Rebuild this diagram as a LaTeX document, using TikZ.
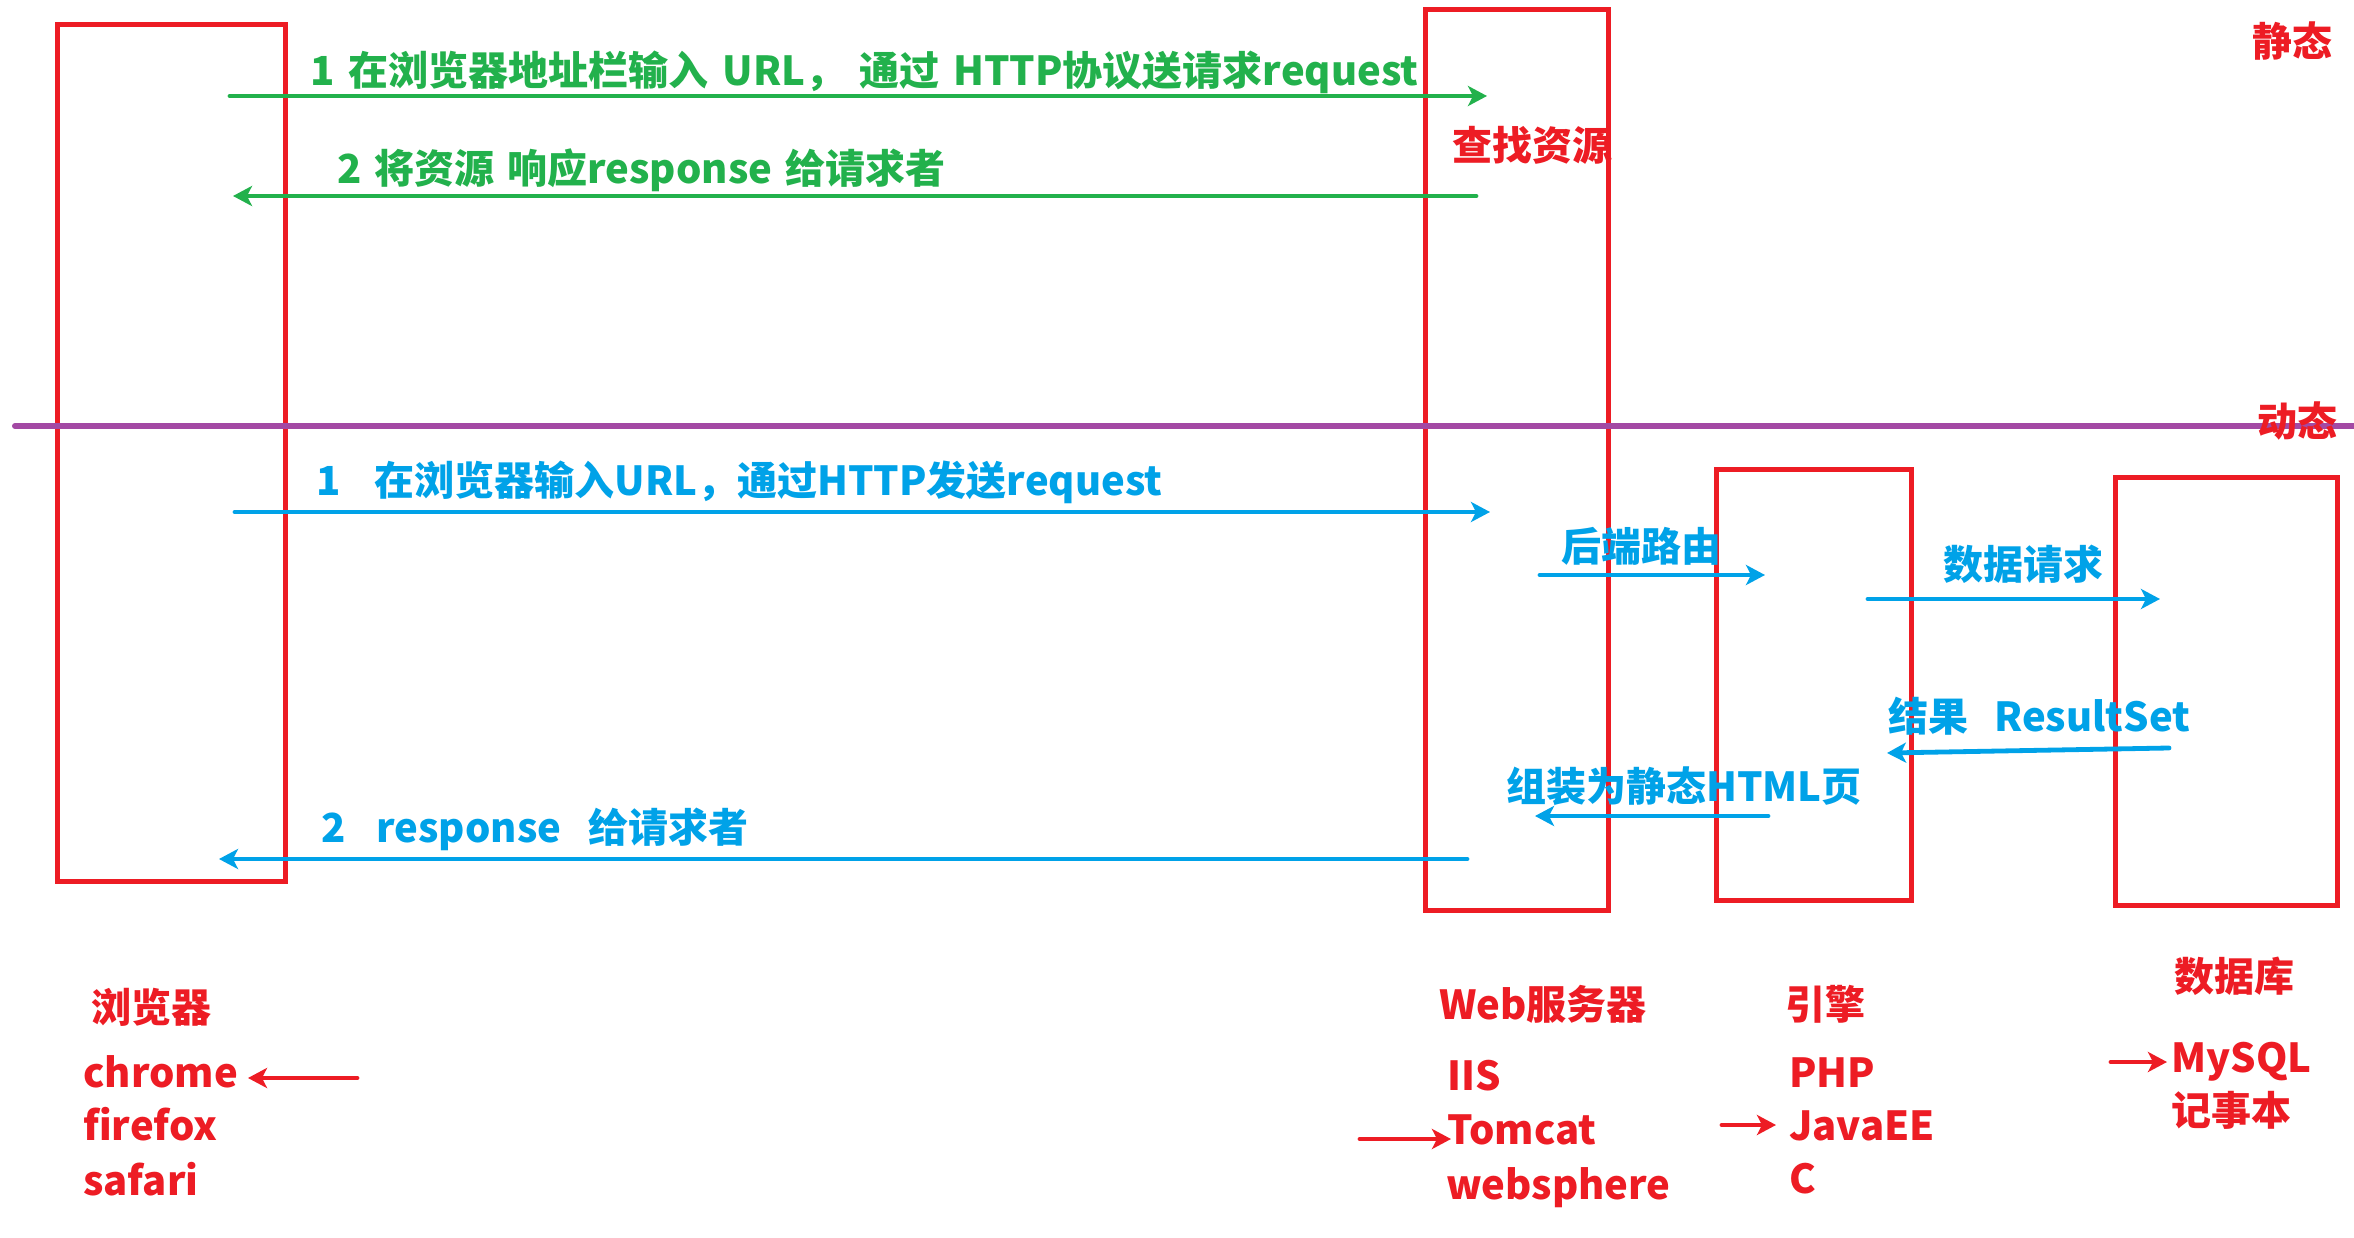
\documentclass[tikz,border=0pt]{standalone}
\usepackage{fontspec}
\setmainfont{Noto Sans CJK SC}
\usetikzlibrary{arrows.meta}
\definecolor{rd}{RGB}{237,28,36}
\definecolor{gn}{RGB}{34,177,76}
\definecolor{bl}{RGB}{0,162,232}
\definecolor{pp}{RGB}{163,73,164}
\begin{document}
\begin{tikzpicture}[x=1pt,y=-1pt,
  box/.style={draw=rd,line width=5pt,inner sep=0pt,outer sep=0pt},
  lbl/.style={font=\fontsize{40}{48}\selectfont\bfseries,inner sep=0pt,anchor=west,text height=34pt,text depth=6pt},
  arr/.style={line width=4.8pt,line cap=round,-{Stealth[length=19pt,width=20pt,inset=5pt]}},
  garr/.style={arr,draw=gn},
  barr/.style={arr,draw=bl},
  rarr/.style={arr,draw=rd}]
\useasboundingbox[fill=white] (0,0) rectangle (2354,1238);
% boxes
\node[box,minimum width=228pt,minimum height=856pt] (browser) at (171,453) {};
\node[box,minimum width=183pt,minimum height=900pt] (web) at (1516.5,460) {};
\node[box,minimum width=195pt,minimum height=431pt] (engine) at (1813.5,684.5) {};
\node[box,minimum width=222pt,minimum height=428pt] (db) at (2226,691) {};
% divider
\coordinate (divL) at (15,426);
\coordinate (divR) at (2354,426);
\draw[pp,line width=6pt,line cap=round] (divL) -- (divR);
% static labels
\node[lbl,text=rd] (static) at (2252,43) {静态};
\node[lbl,text=rd] (dynamic) at (2257,423) {动态};
\node[lbl,text=rd] (find) at (1452,147) {查找资源};
% green
\coordinate (g1s) at (230,96); \coordinate (g1e) at (1487,96);
\coordinate (g2s) at (1476,196); \coordinate (g2e) at (233,196);
\draw[garr] (g1s) -- (g1e);
\draw[garr] (g2s) -- (g2e);
\node[lbl,text=gn] (g1l) at (310,72) {1\hspace{14pt}在浏览器地址栏输入\hspace{14pt}URL，\hspace{14pt}通过\hspace{14pt}HTTP协议送请求request};
\node[lbl,text=gn] (g2l) at (337,170) {2\hspace{13pt}将资源\hspace{13pt}响应response\hspace{13pt}给请求者};
% blue
\coordinate (b1s) at (235,512); \coordinate (b1e) at (1490,512);
\coordinate (b2s) at (1540,575); \coordinate (b2e) at (1765,575);
\coordinate (b3s) at (1868,599); \coordinate (b3e) at (2160,599);
\coordinate (b4s) at (2169,748); \coordinate (b4e) at (1887,753);
\coordinate (b5s) at (1768,816); \coordinate (b5e) at (1535,816);
\coordinate (b6s) at (1467,859); \coordinate (b6e) at (219,859);
\draw[barr] (b1s) -- (b1e);
\draw[barr] (b2s) -- (b2e);
\draw[barr] (b3s) -- (b3e);
\draw[barr] (b4s) -- (b4e);
\draw[barr] (b5s) -- (b5e);
\draw[barr] (b6s) -- (b6e);
\node[lbl,text=bl] (b1l) at (316,481) {1\hspace{34pt}在浏览器输入URL，通过HTTP发送request};
\node[lbl,text=bl] (b2l) at (1561,547) {后端路由};
\node[lbl,text=bl] (b3l) at (1943,565) {数据请求};
\node[lbl,text=bl] (b4l) at (1888,717) {结果\hspace{26pt}ResultSet};
\node[lbl,text=bl] (b5l) at (1506,787) {组装为静态HTML页};
\node[lbl,text=bl] (b6l) at (321,828) {2\hspace{31pt}response\hspace{27pt}给请求者};
% bottom labels
\node[lbl,text=rd] (brT) at (91,1008) {浏览器};
\node[lbl,text=rd] (chrome) at (83,1073) {chrome};
\node[lbl,text=rd] (firefox) at (83,1126) {firefox};
\node[lbl,text=rd] (safari) at (83,1181) {safari};
\node[lbl,text=rd] (webT) at (1439,1005) {Web服务器};
\node[lbl,text=rd] (iis) at (1447,1076) {IIS};
\node[lbl,text=rd] (tomcat) at (1447,1130) {Tomcat};
\node[lbl,text=rd] (websphere) at (1446,1185) {websphere};
\node[lbl,text=rd] (engT) at (1785,1005) {引擎};
\node[lbl,text=rd] (php) at (1789,1073) {PHP};
\node[lbl,text=rd] (javaee) at (1789,1126) {JavaEE};
\node[lbl,text=rd] (clang) at (1789,1179) {C};
\node[lbl,text=rd] (dbT) at (2174,977) {数据库};
\node[lbl,text=rd] (mysql) at (2171,1058) {MySQL};
\node[lbl,text=rd] (notepad) at (2171,1111) {记事本};
% red pointer arrows
\coordinate (r1s) at (357,1078); \coordinate (r1e) at (248,1078);
\coordinate (r2s) at (1360,1139); \coordinate (r2e) at (1451,1139);
\coordinate (r3s) at (1722,1125); \coordinate (r3e) at (1776,1125);
\coordinate (r4s) at (2111,1062); \coordinate (r4e) at (2167,1062);
\draw[rarr] (r1s) -- (r1e);
\draw[rarr] (r2s) -- (r2e);
\draw[rarr] (r3s) -- (r3e);
\draw[rarr] (r4s) -- (r4e);
\end{tikzpicture}
\end{document}
